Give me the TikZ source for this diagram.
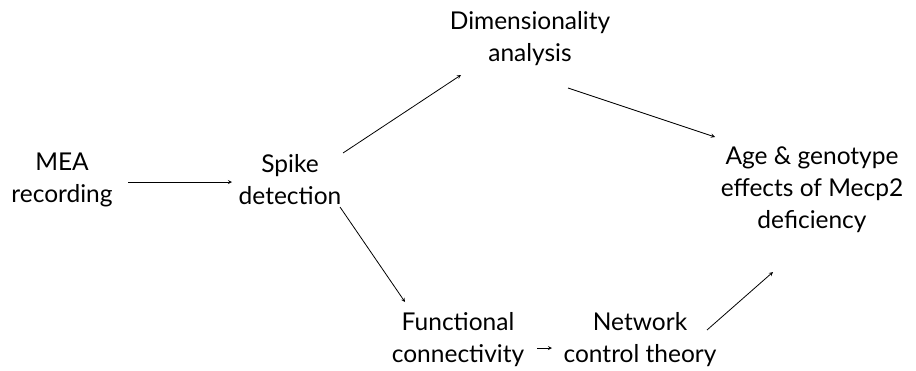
\documentclass[tikz,border=0pt]{standalone}
\usepackage{fontspec}
\setmainfont{Lato}
\begin{document}
\begin{tikzpicture}[x=1pt,y=-1pt,
  lbl/.style={align=center,font=\fontsize{24.5}{32}\selectfont,inner sep=2pt},
  conn/.style={-stealth,line width=0.8pt}]
\useasboundingbox (0,0) rectangle (916,370);
\node[lbl] (mea) at (62,180) {MEA\\recording};
\node[lbl] (spike) at (290,180) {Spike\\detection};
\node[lbl] (dim) at (530,39) {Dimensionality\\analysis};
\node[lbl] (age) at (812,190) {Age \& genotype\\effects of Mecp2\\deficiency};
\node[lbl] (fc) at (458,340) {Functional\\connectivity};
\node[lbl] (nct) at (640,340) {Network\\control theory};
\coordinate (a1s) at (128,182); \coordinate (a1e) at (232,182);
\draw[conn] (a1s) -- (a1e);
\coordinate (a2s) at (343,153); \coordinate (a2e) at (461,75);
\draw[conn] (a2s) -- (a2e);
\coordinate (a3s) at (568,88); \coordinate (a3e) at (715,137);
\draw[conn] (a3s) -- (a3e);
\coordinate (a4s) at (340,207); \coordinate (a4e) at (405,302);
\draw[conn] (a4s) -- (a4e);
\coordinate (a5s) at (537,348); \coordinate (a5e) at (552,348);
\draw[conn] (a5s) -- (a5e);
\coordinate (a6s) at (707,330); \coordinate (a6e) at (773,272);
\draw[conn] (a6s) -- (a6e);
\end{tikzpicture}
\end{document}
